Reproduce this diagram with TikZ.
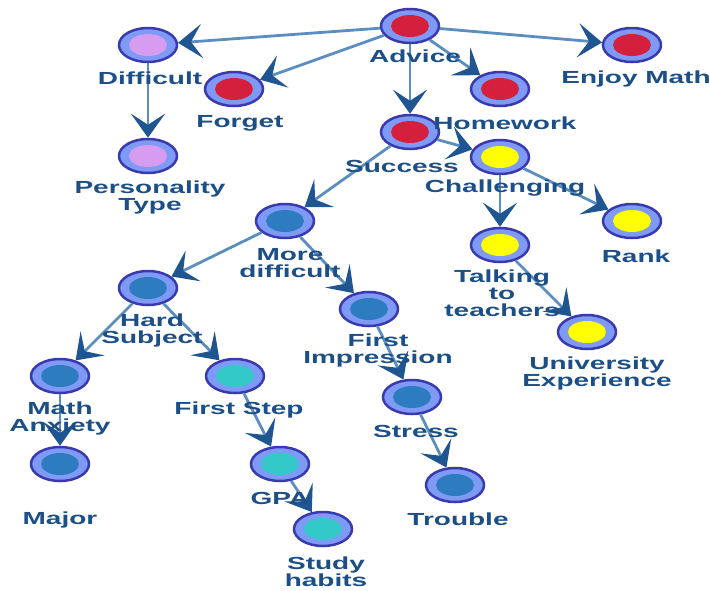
\documentclass[tikz,border=0pt]{standalone}
\usepackage{fontspec}
\newfontfamily\lblfont[FakeStretch=1.6]{Liberation Sans}
\usetikzlibrary{shapes.geometric,arrows.meta}
\definecolor{rimc}{HTML}{3A3AB0}
\definecolor{ringc}{HTML}{7F9AF5}
\definecolor{cred}{HTML}{D4203C}
\definecolor{cviolet}{HTML}{D69CF0}
\definecolor{cyellow}{HTML}{FFFF00}
\definecolor{cblue}{HTML}{2E7CC0}
\definecolor{cteal}{HTML}{33C9C9}
\definecolor{linec}{HTML}{5A8EC0}
\definecolor{tipc}{HTML}{1F5590}
\definecolor{txtc}{HTML}{1C4F86}
\tikzset{
  nd/.style={ellipse, draw=rimc, line width=2.5pt, fill=ringc,
    minimum width=58pt, minimum height=34pt, inner sep=0pt,
    path picture={\fill[#1] (path picture bounding box.center) ellipse [x radius=19pt, y radius=11pt];}},
  lbl/.style={text=txtc, font=\lblfont\bfseries\fontsize{17.5}{17}\selectfont, align=center, inner sep=0pt},
  edge/.style={draw=linec, line width=2.8pt,
    -{Stealth[length=24pt,width=34pt,inset=11pt,color=tipc]}}
}
\begin{document}
\begin{tikzpicture}[x=1pt,y=-1pt]
\useasboundingbox (0,0) rectangle (710,590);
% nodes
\node[nd=cred] (adv) at (410,26) {};
\node[nd=cviolet] (dif) at (148,45) {};
\node[nd=cred] (enj) at (632,45) {};
\node[nd=cred] (for) at (234,89) {};
\node[nd=cred] (hom) at (500,89) {};
\node[nd=cred] (suc) at (410,132) {};
\node[nd=cyellow] (cha) at (500,157) {};
\node[nd=cviolet] (per) at (148,156) {};
\node[nd=cyellow] (ran) at (632,221) {};
\node[nd=cblue] (mor) at (285,221) {};
\node[nd=cyellow] (tal) at (500,245) {};
\node[nd=cblue] (har) at (148,288) {};
\node[nd=cblue] (fir) at (369,309) {};
\node[nd=cyellow] (uni) at (587,332) {};
\node[nd=cblue] (mat) at (60,376) {};
\node[nd=cteal] (fst) at (235,376) {};
\node[nd=cblue] (str) at (412,397) {};
\node[nd=cteal] (gpa) at (280,464) {};
\node[nd=cblue] (maj) at (60,464) {};
\node[nd=cblue] (tro) at (455,485) {};
\node[nd=cteal] (stu) at (323,529) {};
% edges
\draw[edge] (adv) -- (dif);
\draw[edge] (adv) -- (enj);
\draw[edge] (adv) -- (for);
\draw[edge] (adv) -- (hom);
\draw[edge] (adv) -- (suc);
\draw[edge] (dif) -- (per);
\draw[edge] (suc) -- (cha);
\draw[edge] (suc) -- (mor);
\draw[edge] (cha) -- (tal);
\draw[edge] (cha) -- (ran);
\draw[edge] (tal) -- (uni);
\draw[edge] (mor) -- (har);
\draw[edge] (mor) -- (fir);
\draw[edge] (har) -- (mat);
\draw[edge] (har) -- (fst);
\draw[edge] (mat) -- (maj);
\draw[edge] (fst) -- (gpa);
\draw[edge] (gpa) -- (stu);
\draw[edge] (fir) -- (str);
\draw[edge] (str) -- (tro);
% labels
\node[lbl] (ladv) at (415,56) {Advice};
\node[lbl] (ldif) at (150,78) {Difficult};
\node[lbl] (lenj) at (636,79) {Enjoy Math};
\node[lbl] (lfor) at (240,123) {Forget};
\node[lbl] (lhom) at (505,123) {Homework};
\node[lbl] (lsuc) at (402,166) {Success};
\node[lbl] (lcha) at (505,188) {Challenging};
\node[lbl] (lper) at (150,197) {Personality\\Type};
\node[lbl] (lran) at (636,256) {Rank};
\node[lbl] (lmor) at (290,263) {More\\difficult};
\node[lbl] (ltal) at (502,293) {Talking\\to\\teachers};
\node[lbl] (lhar) at (152,330) {Hard\\Subject};
\node[lbl] (lfir) at (378,350) {First\\Impression};
\node[lbl] (luni) at (597,373) {University\\Experience};
\node[lbl] (lmat) at (60,418) {Math\\Anxiety};
\node[lbl] (lfst) at (239,410) {First Step};
\node[lbl] (lstr) at (416,431) {Stress};
\node[lbl] (lgpa) at (280,498) {GPA};
\node[lbl] (lmaj) at (60,520) {Major};
\node[lbl] (ltro) at (458,519) {Trouble};
\node[lbl] (lstu) at (326,572) {Study\\habits};
\end{tikzpicture}
\end{document}
